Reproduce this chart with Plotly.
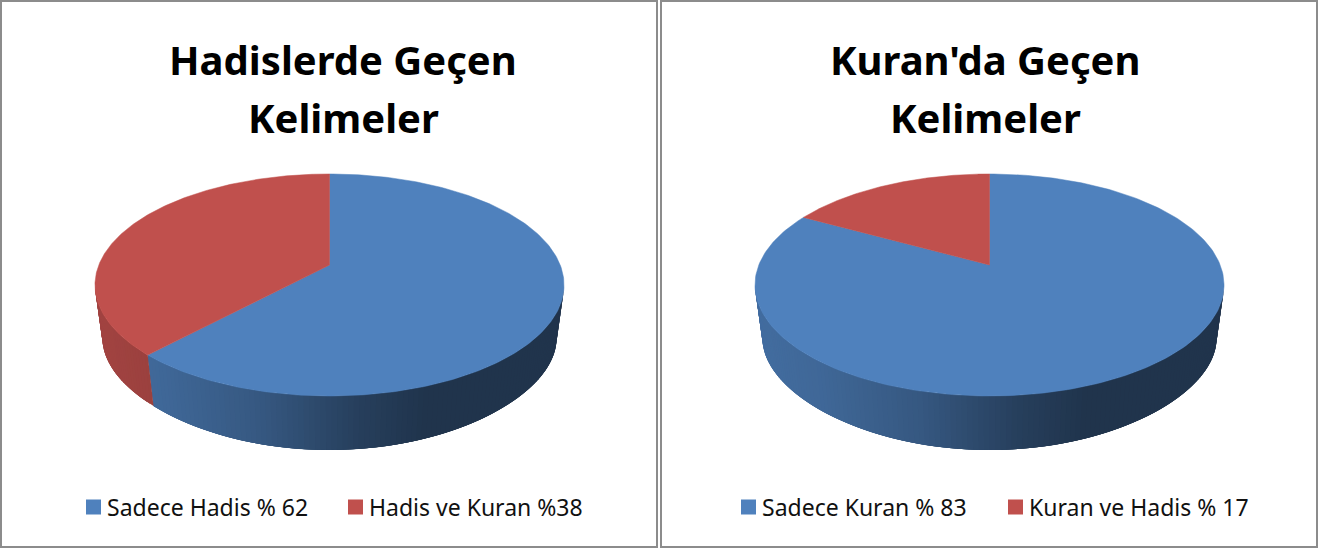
import numpy as np
import plotly.graph_objects as go

# ---- data ----
left_title = ["Hadislerde Geçen", "Kelimeler"]
right_title = ["Kuran'da Geçen", "Kelimeler"]
left_labels = ["Sadece Hadis % 62", "Hadis ve Kuran %38"]
left_values = [62, 38]
right_labels = ["Sadece Kuran % 83", "Kuran ve Hadis % 17"]
right_values = [83, 17]
colors = ["#4F81BD", "#C0504D"]

# ---- layout constants (pixel-like axis units) ----
W, H = 1334, 549
K = 0.18
K_BOT_Y = 0.28
A_TOP, B_TOP = 230.7, 107.4
B_BOT = 92.9
CY_TOP, CY_BOT = 265.0, 321.0
S_BOT = 0.968
TITLE_FONT = "Noto Sans"
SHADE_T = [-1.0, -0.73, -0.3, 0.12, 0.43, 1.0]
SHADE_F = [0.84, 0.80, 0.68, 0.49, 0.40, 0.40]


def rim(cx, theta):
    u, v = np.sin(theta), np.cos(theta)
    w = 1 + K * v
    return cx + A_TOP * u / w, CY_TOP - B_TOP * v / w


def rim_bottom(cx, theta):
    u, v = np.sin(theta), np.cos(theta)
    return cx + S_BOT * A_TOP * u / (1 + K * v), CY_BOT - B_BOT * v / (1 + K_BOT_Y * v)


def shade(hexcol, t):
    f = float(np.interp(t, SHADE_T, SHADE_F))
    rgb = [int(hexcol[i:i + 2], 16) for i in (1, 3, 5)]
    return "rgb(%d,%d,%d)" % tuple(round(c * f) for c in rgb)


def add_pie(fig, cx, values, name):
    fracs = np.cumsum([0] + list(values)) / sum(values)
    lo, hi = np.pi - np.arccos(K), np.pi + np.arccos(K)
    # side wall: painted from right to left in overlapping strips so no seams show
    for i in range(len(values)):
        a, b = max(fracs[i] * 2 * np.pi, lo), min(fracs[i + 1] * 2 * np.pi, hi)
        if b <= a:
            continue
        n = max(2, int((b - a) / 0.02))
        edges = np.linspace(a, b, n + 1)
        for k in range(n):
            th = np.linspace(edges[k], b if k + 4 >= n else edges[k + 4], 6)
            xt, yt = rim(cx, th)
            xb, yb = rim_bottom(cx, th[::-1])
            xm = rim(cx, np.array([(edges[k] + edges[k + 1]) / 2]))[0][0]
            col = shade(colors[i], float((xm - cx) / A_TOP))
            fig.add_trace(go.Scatter(
                x=np.r_[xt, xb, xt[0]], y=np.r_[yt, yb, yt[0]], mode="lines",
                fill="toself", fillcolor=col, line=dict(width=0),
                hoverinfo="skip", showlegend=False))
    # top face slices
    for i, val in enumerate(values):
        th = np.linspace(fracs[i], fracs[i + 1], 240) * 2 * np.pi
        xt, yt = rim(cx, th)
        fig.add_trace(go.Scatter(
            x=np.r_[cx, xt, cx], y=np.r_[CY_TOP, yt, CY_TOP], mode="lines",
            fill="toself", fillcolor=colors[i], line=dict(color=colors[i], width=0.5),
            name=name[i], hoverinfo="skip", showlegend=False))


fig = go.Figure()
add_pie(fig, 329.5, left_values, left_labels)
add_pie(fig, 989.5, right_values, right_labels)

# legend squares and labels
LEG_Y = 507
items = [(86, 105, left_labels[0], 0), (348, 367, left_labels[1], 1),
         (741, 760, right_labels[0], 0), (1008, 1027, right_labels[1], 1)]
annotations = []
for x0, xt, txt, ci in items:
    fig.add_trace(go.Scatter(x=[x0 + 7.5], y=[LEG_Y], mode="markers",
                             marker=dict(symbol="square", size=15, color=colors[ci]),
                             hoverinfo="skip", showlegend=False))
    annotations.append(dict(x=xt, y=LEG_Y, text=txt, xanchor="left", yanchor="middle",
                            showarrow=False, xref="x", yref="y",
                            font=dict(family=TITLE_FONT, size=23, color="#111111")))
for cx, lines in zip((343, 985), (left_title, right_title)):
    for yc, line in zip((59, 117), lines):
        annotations.append(dict(x=cx, y=yc, text=line, xanchor="center", yanchor="middle",
                                showarrow=False, xref="x", yref="y",
                                font=dict(family=TITLE_FONT, size=40, color="#000000",
                                          weight="bold")))

frame = dict(type="rect", xref="x", yref="y", layer="above",
             line=dict(color="#8C8C8C", width=2), fillcolor="rgba(0,0,0,0)")
shapes = [dict(frame, x0=1, x1=657, y0=1, y1=547),
          dict(frame, x0=661, x1=1317, y0=1, y1=547)]

fig.update_layout(
    width=W, height=H, margin=dict(l=0, r=0, t=0, b=0),
    paper_bgcolor="white", plot_bgcolor="white", showlegend=False,
    xaxis=dict(range=[0, W], visible=False, fixedrange=True),
    yaxis=dict(range=[H, 0], visible=False, fixedrange=True),
    annotations=annotations, shapes=shapes,
)
fig.write_html("out.html", config=dict(displayModeBar=False),
               post_script="document.body.style.margin='0';document.body.style.overflow='hidden';")
